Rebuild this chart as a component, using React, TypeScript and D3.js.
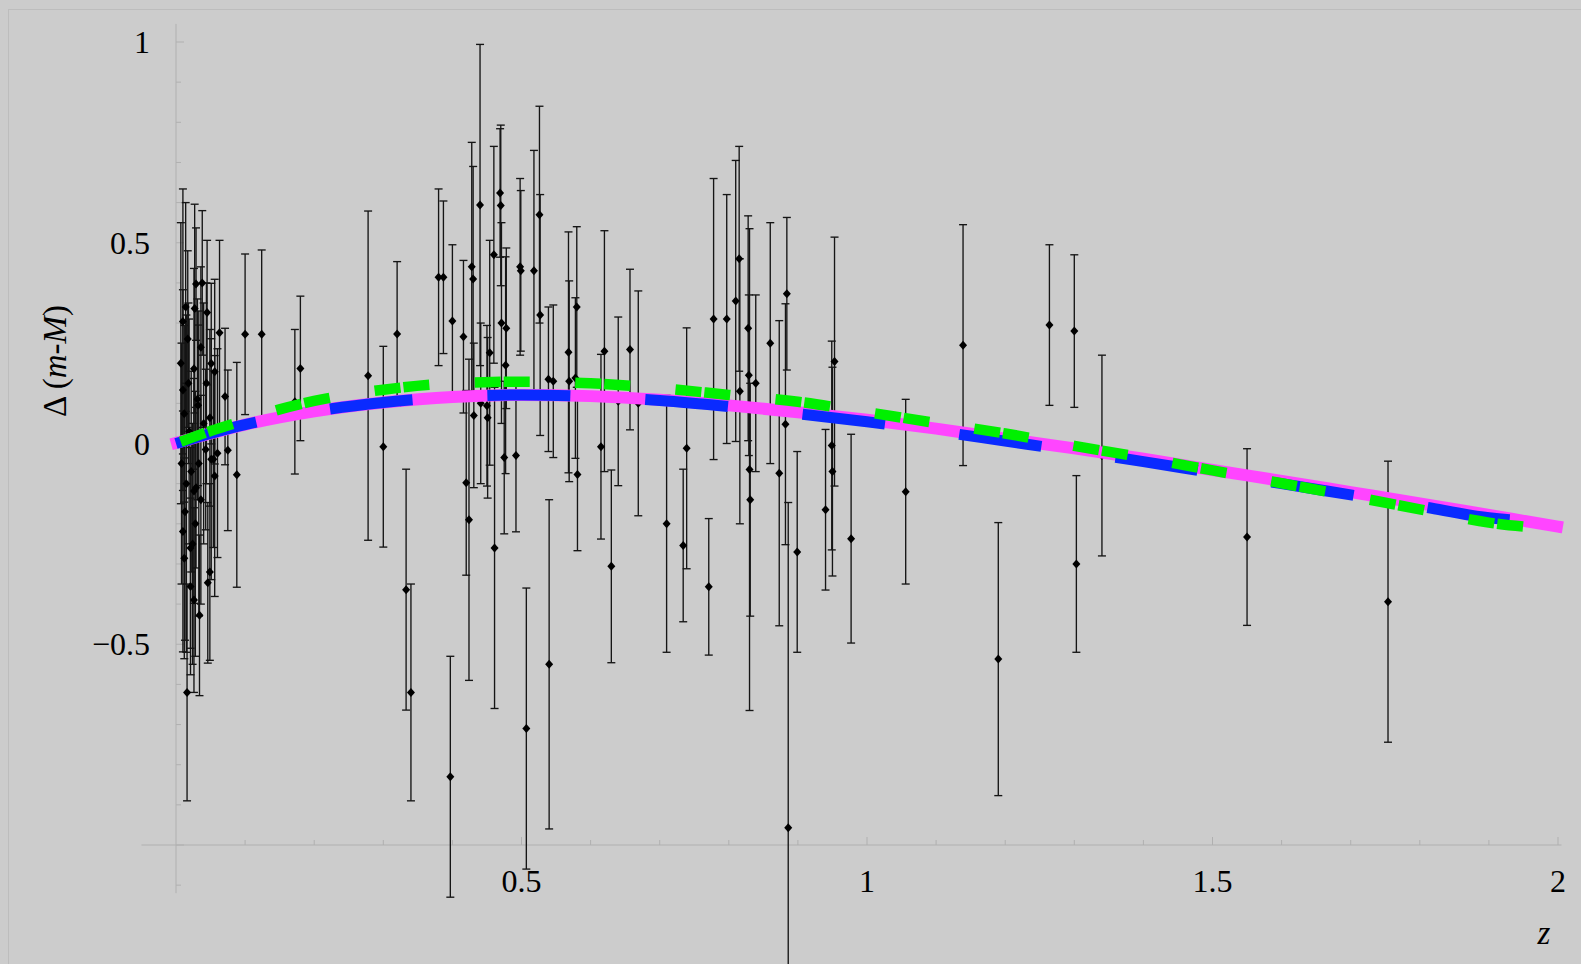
import React from 'react';
import * as d3 from 'd3';

// supernova residuals: redshift, Δ(m-M), 1σ error
const snZ = [
  0.010, 0.010, 0.010, 0.012, 0.012, 0.014, 0.016, 0.017, 0.018, 0.021,
  0.021, 0.024, 0.026, 0.026, 0.026, 0.027, 0.029, 0.029, 0.031, 0.032,
  0.034, 0.036, 0.036, 0.038, 0.043, 0.045, 0.046, 0.049, 0.049, 0.051,
  0.051, 0.054, 0.056, 0.056, 0.060, 0.063, 0.071, 0.075, 0.088, 0.100,
  0.124, 0.008, 0.013, 0.019, 0.022, 0.007, 0.015, 0.028, 0.040, 0.033,
  0.044,
  0.172, 0.180, 0.278, 0.300, 0.320, 0.333, 0.340, 0.380, 0.387, 0.397,
  0.400, 0.416, 0.420, 0.424, 0.428, 0.430, 0.431, 0.440, 0.441, 0.450,
  0.451, 0.454, 0.460, 0.461, 0.469, 0.470, 0.471, 0.475, 0.477, 0.478,
  0.492, 0.498, 0.499, 0.507, 0.518, 0.526, 0.527, 0.539, 0.546, 0.540,
  0.568, 0.569,
  0.580, 0.578, 0.581, 0.615, 0.620, 0.630, 0.640, 0.657, 0.669, 0.710,
  0.734, 0.739, 0.771, 0.778, 0.797, 0.810, 0.815, 0.816, 0.828, 0.829,
  0.830, 0.831, 0.839, 0.860, 0.873, 0.882, 0.884, 0.886, 0.899, 0.940,
  0.949, 0.950, 0.953, 0.977, 1.056, 1.139,
  1.190, 1.264, 1.300, 1.303, 1.340, 1.550, 1.754,
];
const snDelta = [
  0.304, 0.133, -0.219, -0.286, 0.074, 0.340, -0.620, 0.260, 0.150, -0.260,
  -0.356, -0.250, -0.390, -0.118, 0.186, 0.336, 0.397, -0.110, 0.110, 0.095,
  -0.428, -0.140, 0.240, 0.400, -0.015, 0.326, -0.347, -0.320, 0.064, 0.199,
  -0.039, -0.039, 0.179, -0.081, -0.024, 0.276, 0.117, -0.017, -0.078, 0.272,
  0.272, -0.050, -0.170, 0.030, -0.070, 0.200, -0.100, -0.200, 0.050, -0.050,
  0.150,
  0.104, 0.187, 0.169, -0.008, 0.273, -0.364, -0.620, 0.414, 0.414, -0.830,
  0.305, 0.266, -0.098, -0.190, 0.440, 0.410, 0.070, 0.594, 0.100, 0.094,
  0.064, 0.226, 0.470, -0.260, 0.624, 0.593, 0.300, -0.035, 0.195, 0.287,
  -0.030, 0.440, 0.430, -0.710, 0.430, 0.570, 0.320, 0.160, 0.155, -0.550,
  0.227, 0.155,
  0.340, 0.163, -0.077, -0.008, 0.230, -0.306, 0.105, 0.234, 0.100, -0.200,
  -0.254, -0.012, -0.357, 0.310, 0.310, 0.355, 0.460, 0.130, 0.287, 0.170,
  -0.065, -0.140, 0.150, 0.250, -0.074, 0.048, 0.373, -0.957, -0.270, -0.165,
  -0.005, -0.070, 0.204, -0.237, -0.120, 0.245,
  -0.537, 0.295, 0.280, -0.300, -0.030, -0.233, -0.394,
];
const snErr = [
  0.33, 0.25, 0.30, 0.25, 0.22, 0.26, 0.27, 0.22, 0.20, 0.25,
  0.22, 0.30, 0.23, 0.28, 0.25, 0.26, 0.14, 0.20, 0.25, 0.20,
  0.20, 0.26, 0.20, 0.18, 0.20, 0.18, 0.20, 0.22, 0.22, 0.20,
  0.30, 0.22, 0.23, 0.30, 0.26, 0.23, 0.17, 0.20, 0.28, 0.20,
  0.21, 0.30, 0.32, 0.28, 0.25, 0.35, 0.42, 0.33, 0.30, 0.38,
  0.25,
  0.18, 0.18, 0.41, 0.25, 0.18, 0.30, 0.27, 0.22, 0.19, 0.30,
  0.19, 0.19, 0.23, 0.40, 0.31, 0.28, 0.18, 0.40, 0.20, 0.20,
  0.20, 0.28, 0.27, 0.40, 0.16, 0.20, 0.25, 0.19, 0.27, 0.20,
  0.19, 0.22, 0.20, 0.35, 0.30, 0.27, 0.30, 0.18, 0.19, 0.41,
  0.30, 0.25,
  0.20, 0.20, 0.19, 0.23, 0.30, 0.24, 0.21, 0.20, 0.28, 0.32,
  0.19, 0.30, 0.17, 0.35, 0.31, 0.35, 0.28, 0.33, 0.28, 0.20,
  0.60, 0.29, 0.22, 0.30, 0.38, 0.30, 0.19, 0.81, 0.25, 0.20,
  0.26, 0.26, 0.31, 0.26, 0.23, 0.30,
  0.34, 0.20, 0.19, 0.22, 0.25, 0.22, 0.35,
];

// model curves
const curveZ = [0, 0.05, 0.1, 0.15, 0.2, 0.3, 0.4, 0.5, 0.6, 0.7, 0.8, 0.9, 1.0,
  1.1, 1.2, 1.3, 1.4, 1.5, 1.6, 1.7, 1.8, 1.9, 2.0];
const magentaModel = [0, 0.025, 0.047, 0.065, 0.080, 0.102, 0.116, 0.121, 0.118, 0.109,
  0.095, 0.078, 0.059, 0.037, 0.012, -0.012, -0.038, -0.066, -0.093, -0.121, -0.149, -0.178, -0.207];
const blueModel = [0, 0.025, 0.047, 0.065, 0.080, 0.102, 0.116, 0.121, 0.117, 0.107,
  0.092, 0.074, 0.054, 0.031, 0.006, -0.019, -0.045, -0.073, -0.100, -0.128, -0.156, -0.185, -0.200];
const greenModel = [0, 0.031, 0.058, 0.085, 0.106, 0.134, 0.150, 0.154, 0.150, 0.138,
  0.121, 0.104, 0.078, 0.051, 0.025, -0.006, -0.035, -0.067, -0.099, -0.131, -0.164, -0.197, -0.216];
const blueEnd = 1.955;
const greenEnd = 1.967;

const xTicks = [0.5, 1, 1.5, 2];
const yTicks = [1, 0.5, 0, -0.5];
const yTickLabels = ['1', '0.5', '0', '\u22120.5'];

export default function App() {
  const width = 1581;
  const height = 964;
  const bg = '#cccccc';
  const axisColor = '#b0b0b0';
  const font = 'Liberation Serif, Times New Roman, Times, serif';

  const x = d3.scaleLinear().domain([0, 2]).range([176, 1558]);
  const y = d3.scaleLinear().domain([-1, 1]).range([845, 42]);

  const pts = snZ.map((z, i) => ({ z, v: snDelta[i], e: snErr[i] }));

  const makeLine = d3.line<[number, number]>()
    .x(d => x(d[0]))
    .y(d => y(d[1]))
    .curve(d3.curveMonotoneX);

  const curvePoints = (vals: number[], zEnd: number): [number, number][] => {
    const out: [number, number][] = [];
    curveZ.forEach((z, i) => {
      if (z <= zEnd) out.push([z, vals[i]]);
    });
    const last = curveZ.findIndex(z => z > zEnd);
    if (last > 0) {
      const z0 = curveZ[last - 1], z1 = curveZ[last];
      const t = (zEnd - z0) / (z1 - z0);
      out.push([zEnd, vals[last - 1] + t * (vals[last] - vals[last - 1])]);
    }
    return out;
  };

  const magentaPath = makeLine([[-0.007, -0.002], ...curvePoints(magentaModel, 2.0).slice(1), [2.007, -0.209]]);
  const bluePath = makeLine(curvePoints(blueModel, blueEnd));
  const greenPath = makeLine(curvePoints(greenModel, greenEnd));

  const minorY = d3.range(-11, 11).map(k => k / 10);
  const minorX = d3.range(1, 21).map(k => k / 10);

  return (
    <svg width={width} height={height} style={{ position: 'absolute', left: 0, top: 0, display: 'block' }}>
      <rect x={0} y={0} width={width} height={height} fill={bg} />
      <rect x={8.5} y={9.5} width={width + 20} height={height + 20} fill="none" stroke="#bdbdbd" strokeWidth={1} />

      {/* axes */}
      <g stroke={axisColor} strokeWidth={1} fill="none">
        <line x1={x(0)} x2={x(0)} y1={y(1.045)} y2={y(-1.12)} />
        <line x1={x(-0.05)} x2={x(2.005)} y1={y(-1)} y2={y(-1)} />
        {minorY.map(v => {
          const major = Math.abs(v * 2 - Math.round(v * 2)) < 1e-6;
          return <line key={'ty' + v} x1={x(0)} x2={x(0) + (major ? 8 : 5)} y1={y(v)} y2={y(v)} />;
        })}
        {minorX.map(z => {
          const major = Math.abs(z * 2 - Math.round(z * 2)) < 1e-6;
          return <line key={'tx' + z} x1={x(z)} x2={x(z)} y1={y(-1)} y2={y(-1) - (major ? 8 : 5)} />;
        })}
      </g>

      {/* tick labels */}
      <g style={{ fontFamily: font }} fontSize={32} fill="#000">
        {yTicks.map((v, i) => (
          <text key={'ly' + v} x={150} y={y(v)} textAnchor="end" dominantBaseline="central">{yTickLabels[i]}</text>
        ))}
        {xTicks.map(z => (
          <text key={'lx' + z} x={x(z)} y={892} textAnchor="middle">{z}</text>
        ))}
      </g>

      {/* axis titles */}
      <text transform="translate(66,361) rotate(-90)" textAnchor="middle" style={{ fontFamily: font }} fontSize={33} fill="#000">
        {'\u0394 ('}<tspan fontStyle="italic">m</tspan>-<tspan fontStyle="italic">M</tspan>)
      </text>
      <text x={1544} y={944} textAnchor="middle" style={{ fontFamily: font }} fontSize={33} fontStyle="italic" fill="#000">z</text>

      {/* data with error bars */}
      <g stroke="#151515" strokeWidth={1.35} fill="none">
        {pts.map((p, i) => {
          const top = y(p.v + p.e);
          const bot = Math.min(y(p.v - p.e), height);
          const cx = x(p.z);
          return (
            <g key={'e' + i}>
              <line x1={cx} x2={cx} y1={top} y2={bot} />
              <line x1={cx - 4} x2={cx + 4} y1={top} y2={top} />
              {bot < height && <line x1={cx - 4} x2={cx + 4} y1={bot} y2={bot} />}
            </g>
          );
        })}
      </g>
      <g fill="#000">
        {pts.map((p, i) => {
          const cx = x(p.z), cy = y(p.v);
          return <path key={'p' + i} d={`M${cx},${cy - 4.5}L${cx + 4},${cy}L${cx},${cy + 4.5}L${cx - 4},${cy}Z`} />;
        })}
      </g>

      {/* model curves */}
      <path d={magentaPath || ''} fill="none" stroke="#ff45ff" strokeWidth={12} />
      <path d={bluePath || ''} fill="none" stroke="#0a2aff" strokeWidth={11} strokeDasharray="83 75" />
      <path d={greenPath || ''} fill="none" stroke="#00f000" strokeWidth={10.5} strokeDasharray="26 3 26 45.5" strokeDashoffset={-5} />
    </svg>
  );
}
